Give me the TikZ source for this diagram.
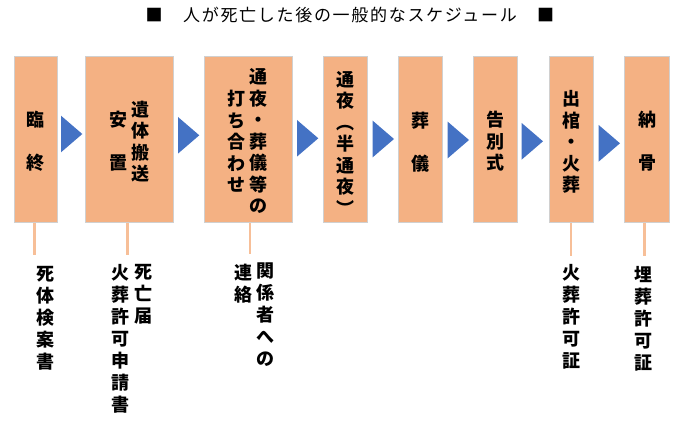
\documentclass[tikz,border=0pt]{standalone}
\usepackage{fontspec}
\newfontfamily\jp{Noto Sans CJK JP}
\newfontfamily\jptitle{Noto Sans CJK JP}[LetterSpace=10]
\definecolor{boxfill}{HTML}{F4B183}
\definecolor{boxline}{HTML}{D0D0D0}
\definecolor{stemcol}{HTML}{F7BF98}
\definecolor{arrowblue}{HTML}{4472C4}
\tikzset{
  stepbox/.style={rectangle, fill=boxfill, draw=boxline, line width=1pt, inner sep=0pt, minimum height=165.5pt},
  vtext/.style={inner sep=0pt, align=center, font=\jp\bfseries\fontsize{18}{21.5}\selectfont},
  btext/.style={inner sep=0pt, align=center, anchor=north, font=\jp\bfseries\fontsize{18}{22}\selectfont},
  stem/.style={draw=stemcol, line width=2.7pt},
  tri/.style={fill=arrowblue},
}
\newcommand\triarrow[2]{\fill[tri] (#1,#2) -- ++(21.3,18.3) -- ++(-21.3,18.3) -- cycle;}
\begin{document}
\begin{tikzpicture}[x=1pt,y=-1pt]
\useasboundingbox (0,0) rectangle (680,433);
% title
\node[inner sep=0pt, font=\jptitle\fontsize{17}{17}\selectfont] (title) at (350,15) {■　人が死亡した後の一般的なスケジュール　■};
% boxes
\node[stepbox, minimum width=42.5pt] (b1) at (35.75,139.75) {};
\node[stepbox, minimum width=87.3pt] (b2) at (129.35,139.75) {};
\node[stepbox, minimum width=88pt] (b3) at (248,139.75) {};
\node[stepbox, minimum width=44.3pt] (b4) at (345.15,139.75) {};
\node[stepbox, minimum width=44pt] (b5) at (420.3,139.75) {};
\node[stepbox, minimum width=44.3pt] (b6) at (495.15,139.75) {};
\node[stepbox, minimum width=44.7pt] (b7) at (571.35,139.75) {};
\node[stepbox, minimum width=45pt] (b8) at (646.8,139.75) {};
% box texts
\node[vtext] (t1) at (35.8,141.5) {臨\\　\\終};
\node[vtext] (t2a) at (140,141.5) {遺\\体\\搬\\送};
\node[vtext] (t2b) at (118,141.5) {安\\　\\置};
\node[vtext] (t3a) at (258.3,141) {通\\夜\\・\\葬\\儀\\等\\の};
\node[vtext] (t3b) at (236,141.7) {打\\ち\\合\\わ\\せ};
\node[vtext] (t4) at (345,143) {通\\夜\\︵\\半\\通\\夜\\︶};
\node[vtext] (t5) at (420,142.5) {葬\\　\\儀};
\node[vtext] (t6) at (495,141.5) {告\\別\\式};
\node[vtext] (t7) at (571,142) {出\\棺\\・\\火\\葬};
\node[vtext] (t8) at (647,141.5) {納\\　\\骨};
% arrows
\triarrow{61}{115.7}
\triarrow{178}{117}
\triarrow{297}{120}
\triarrow{372.7}{120.7}
\triarrow{447.7}{121.7}
\triarrow{521.7}{123}
\triarrow{598.7}{125}
% stems
\coordinate (l1) at (34.7,255);
\coordinate (l2) at (127.7,255);
\coordinate (l3) at (250,254);
\coordinate (l7) at (571,256);
\coordinate (l8) at (644.3,256);
\draw[stem] (b1.south -| l1) -- (l1);
\draw[stem] (b2.south -| l2) -- (l2);
\draw[stem] (b3.south -| l3) -- (l3);
\draw[stem] (b7.south -| l7) -- (l7);
\draw[stem] (b8.south -| l8) -- (l8);
% bottom texts
\node[btext] (d1) at (45.3,266) {死\\体\\検\\案\\書};
\node[btext] (d2a) at (143.3,264) {死\\亡\\届};
\node[btext] (d2b) at (120.7,264) {火\\葬\\許\\可\\申\\請\\書};
\node[btext] (d3a) at (265,263) {関\\係\\者\\へ\\の};
\node[btext] (d3b) at (243.3,264) {連\\絡};
\node[btext] (d7) at (571,264) {火\\葬\\許\\可\\証};
\node[btext] (d8) at (643.3,266) {埋\\葬\\許\\可\\証};
\end{tikzpicture}
\end{document}
